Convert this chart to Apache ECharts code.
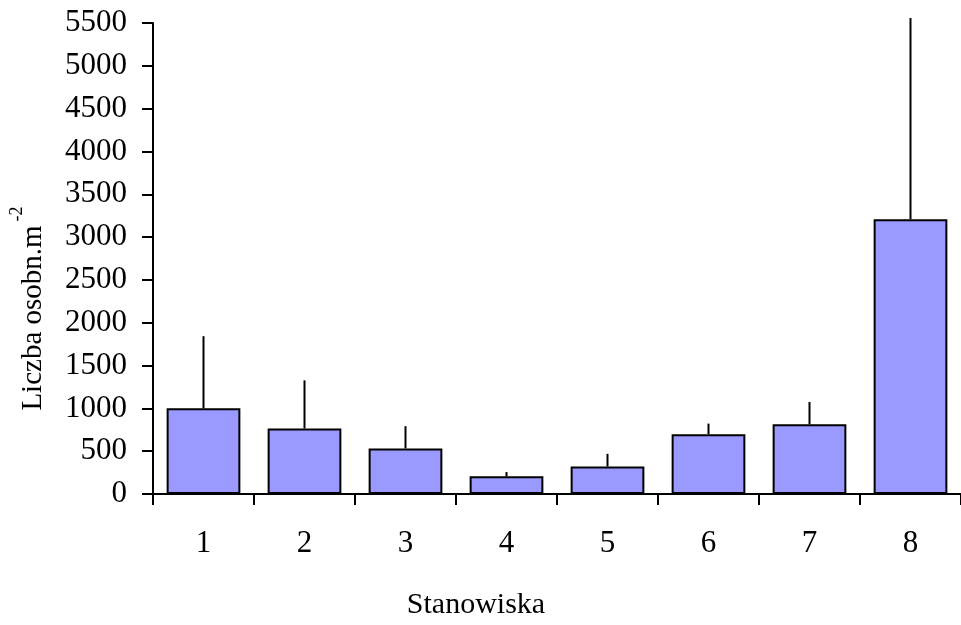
<!DOCTYPE html>
<html>
<head>
<meta charset="utf-8">
<script src="https://cdn.jsdelivr.net/npm/echarts@6/dist/echarts.min.js"></script>
<style>
  html, body { margin: 0; padding: 0; background: #ffffff; }
  #chart { width: 961px; height: 625px; }
</style>
</head>
<body>
<div id="chart"></div>
<script>
// Sampling sites and mean density with the upper end of the error bar
const sites = ['1', '2', '3', '4', '5', '6', '7', '8'];
const meanDensity = [1000, 765, 532, 206, 321, 698, 815, 3209];
const upperBound = [1843, 1327, 792, 256, 469, 822, 1075, 5558];
const yTicks = { min: 0, max: 5500, step: 500 };

const serif = '"Liberation Serif", "Times New Roman", serif';
const chart = echarts.init(document.getElementById('chart'), null, { renderer: 'canvas' });

const errorPairs = sites.map((s, i) => [i, meanDensity[i], upperBound[i]]);

chart.setOption({
  animation: false,
  backgroundColor: '#ffffff',
  grid: { left: 153, top: 23, bottom: 131, width: 812, containLabel: false },
  xAxis: {
    type: 'category',
    data: sites,
    boundaryGap: true,
    axisLine: { lineStyle: { color: '#000', width: 2 } },
    axisTick: { show: true, length: 11, inside: false, lineStyle: { color: '#000', width: 2 } },
    axisLabel: { color: '#000', fontFamily: serif, fontSize: 31, margin: 34 },
    splitLine: { show: false }
  },
  yAxis: {
    type: 'value',
    min: yTicks.min,
    max: yTicks.max,
    interval: yTicks.step,
    axisLine: { show: true, lineStyle: { color: '#000', width: 2 } },
    axisTick: { show: true, length: 11, inside: false, lineStyle: { color: '#000', width: 2 } },
    axisLabel: {
      color: '#000', fontFamily: serif, fontSize: 31, margin: 26,
      formatter: function (v) { return String(v); }
    },
    splitLine: { show: false }
  },
  graphic: [
    {
      type: 'text',
      x: 33, y: 318,
      rotation: Math.PI / 2,
      style: {
        text: 'Liczba osobn.m',
        fill: '#000',
        font: '29px ' + serif,
        align: 'center',
        verticalAlign: 'middle'
      }
    },
    {
      type: 'text',
      x: 17, y: 214,
      rotation: Math.PI / 2,
      style: {
        text: '-2',
        fill: '#000',
        font: '18px ' + serif,
        align: 'center',
        verticalAlign: 'middle'
      }
    },
    {
      type: 'text',
      x: 476, y: 605,
      style: {
        text: 'Stanowiska',
        fill: '#000',
        font: '30px ' + serif,
        align: 'center',
        verticalAlign: 'middle'
      }
    }
  ],
  series: [
    {
      type: 'bar',
      data: meanDensity,
      barCategoryGap: '27%',
      itemStyle: { color: '#9999ff', borderColor: '#000', borderWidth: 2 },
      z: 2
    },
    {
      type: 'custom',
      data: errorPairs,
      clip: false,
      z: 3,
      encode: { x: 0, y: [1, 2] },
      renderItem: function (params, api) {
        const i = api.value(0);
        const lo = api.coord([i, api.value(1)]);
        const hi = api.coord([i, api.value(2)]);
        return {
          type: 'line',
          shape: { x1: lo[0], y1: lo[1], x2: hi[0], y2: hi[1] },
          style: { stroke: '#000', lineWidth: 2 }
        };
      }
    }
  ]
});
</script>
</body>
</html>
